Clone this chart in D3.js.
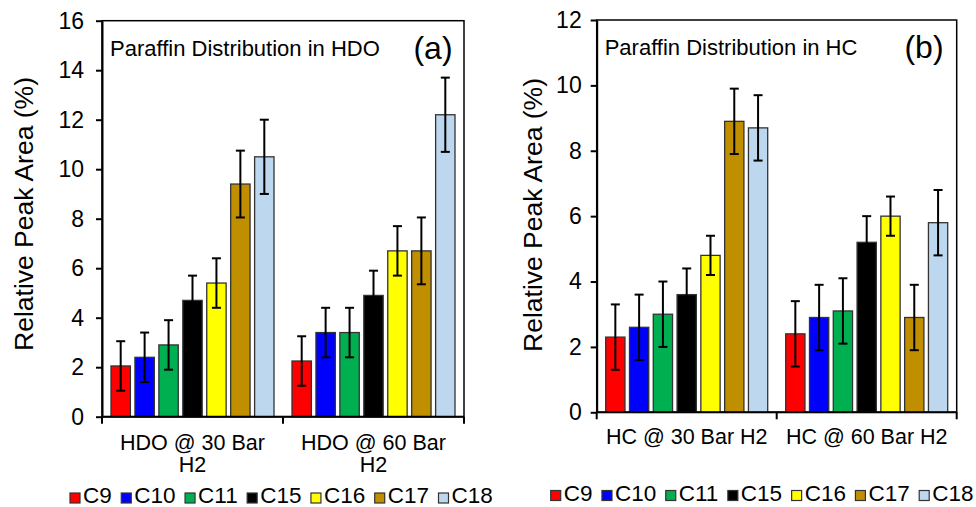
<!DOCTYPE html>
<html>
<head>
<meta charset="utf-8">
<script src="https://cdn.jsdelivr.net/npm/d3@7"></script>
<style>
  html, body { margin: 0; padding: 0; background: #fff; }
  svg { display: block; font-family: "Liberation Sans", Arial, sans-serif; }
</style>
</head>
<body>
<svg id="chart" width="976" height="507"></svg>
<script>
// series (paraffins) and their fill colours
const series = ["C9", "C10", "C11", "C15", "C16", "C17", "C18"];
const colors = ["#ff0000", "#0000ff", "#00b050", "#000000", "#ffff00", "#bf8f00", "#bdd7ee"];

// panel (a): HDO
const hdoCategories = ["HDO @ 30 Bar H2", "HDO @ 60 Bar H2"];
const hdo30 = [2.05, 2.4, 2.9, 4.7, 5.4, 9.4, 10.5];
const hdo30Err = [1.0, 1.0, 1.0, 1.0, 1.0, 1.35, 1.5];
const hdo60 = [2.25, 3.4, 3.4, 4.9, 6.7, 6.7, 12.2];
const hdo60Err = [1.0, 1.0, 1.0, 1.0, 1.0, 1.35, 1.5];
const hdoTicks = [0, 2, 4, 6, 8, 10, 12, 14, 16];

// panel (b): HC
const hcCategories = ["HC @ 30 Bar H2", "HC @ 60 Bar H2"];
const hc30 = [2.3, 2.6, 3.0, 3.6, 4.8, 8.9, 8.7];
const hc30Err = [1.0, 1.0, 1.0, 0.8, 0.6, 1.0, 1.0];
const hc60 = [2.4, 2.9, 3.1, 5.2, 6.0, 2.9, 5.8];
const hc60Err = [1.0, 1.0, 1.0, 0.8, 0.6, 1.0, 1.0];
const hcTicks = [0, 2, 4, 6, 8, 10, 12];

const svg = d3.select("#chart");

function drawPanel(opt) {
  const x = d3.scaleBand().domain(opt.categories).range([opt.left, opt.right]);
  const y = d3.scaleLinear().domain([0, d3.max(opt.ticks)]).range([opt.bottom, opt.top]);
  const inner = d3.scaleBand().domain(series)
      .range([9, x.bandwidth() - 9]).paddingInner(0.19);

  const g = svg.append("g");

  // frame
  g.append("rect")
      .attr("x", opt.left).attr("y", opt.top)
      .attr("width", opt.right - opt.left).attr("height", opt.bottom - opt.top)
      .attr("fill", "none").attr("stroke", "#000").attr("stroke-width", 1.5);

  // bars + error bars
  const rows = [];
  opt.categories.forEach((c, ci) => {
    series.forEach((s, si) => {
      rows.push({ cat: c, s: s, color: colors[si], v: opt.values[ci][si], e: opt.errors[ci][si] });
    });
  });

  g.selectAll("rect.bar").data(rows).join("rect")
      .attr("class", "bar")
      .attr("x", d => x(d.cat) + inner(d.s))
      .attr("y", d => y(d.v))
      .attr("width", inner.bandwidth())
      .attr("height", d => y(0) - y(d.v))
      .attr("fill", d => d.color)
      .attr("stroke", "#333")
      .attr("stroke-width", 1.3);

  const eb = g.selectAll("g.err").data(rows).join("g").attr("class", "err")
      .attr("transform", d => `translate(${x(d.cat) + inner(d.s) + inner.bandwidth() / 2},0)`);
  eb.append("line")
      .attr("y1", d => y(d.v + d.e)).attr("y2", d => y(d.v - d.e))
      .attr("stroke", "#000").attr("stroke-width", 2);
  eb.append("line").attr("x1", -4.5).attr("x2", 4.5)
      .attr("y1", d => y(d.v + d.e)).attr("y2", d => y(d.v + d.e))
      .attr("stroke", "#000").attr("stroke-width", 2);
  eb.append("line").attr("x1", -4.5).attr("x2", 4.5)
      .attr("y1", d => y(d.v - d.e)).attr("y2", d => y(d.v - d.e))
      .attr("stroke", "#000").attr("stroke-width", 2);

  // y axis
  const ya = g.append("g")
      .attr("transform", `translate(${opt.left},0)`)
      .call(d3.axisLeft(y).tickValues(opt.ticks).tickSize(6).tickPadding(opt.tickPad).tickSizeOuter(0));
  ya.select(".domain").attr("stroke-width", 2);
  ya.selectAll(".tick line").attr("stroke-width", 2);
  ya.selectAll(".tick text").attr("font-size", 23).attr("fill", "#000")
      .attr("font-family", null);

  // x axis: baseline and category boundary ticks
  g.append("line")
      .attr("x1", opt.left).attr("x2", opt.right)
      .attr("y1", y(0)).attr("y2", y(0))
      .attr("stroke", "#000").attr("stroke-width", 2);
  const bounds = opt.categories.map(c => x(c)).concat([opt.right]);
  g.selectAll("line.xt").data(bounds).join("line").attr("class", "xt")
      .attr("x1", d => d).attr("x2", d => d)
      .attr("y1", y(0)).attr("y2", y(0) + 7)
      .attr("stroke", "#000").attr("stroke-width", 2);

  // category labels, wrapped when wider than the band
  opt.categories.forEach(c => {
    const t = g.append("text")
        .attr("x", x(c) + x.bandwidth() / 2)
        .attr("y", opt.catY)
        .attr("text-anchor", "middle")
        .attr("font-size", 21.5);
    const words = c.split(" ");
    let line = [];
    let ts = t.append("tspan").attr("x", x(c) + x.bandwidth() / 2);
    words.forEach(w => {
      line.push(w);
      ts.text(line.join(" "));
      if (ts.node().getComputedTextLength() > x.bandwidth() - 12 && line.length > 1) {
        line.pop();
        ts.text(line.join(" "));
        line = [w];
        ts = t.append("tspan").attr("x", x(c) + x.bandwidth() / 2).attr("dy", 22).text(w);
      }
    });
  });

  // y title
  g.append("text")
      .attr("transform", `translate(${opt.titleX},${opt.titleY}) rotate(-90)`)
      .attr("text-anchor", "middle")
      .attr("dy", "0.35em")
      .attr("font-size", 26.5)
      .text("Relative Peak Area (%)");

  // inner labels
  g.append("text")
      .attr("x", opt.left + 8).attr("y", opt.top + 35)
      .attr("font-size", 22)
      .text(opt.label);
  g.append("text")
      .attr("x", opt.tagX).attr("y", opt.top + 38)
      .attr("text-anchor", "middle")
      .attr("font-size", 32)
      .text(opt.tag);

  // legend
  const lg = g.append("g").attr("transform", `translate(${opt.legX},${opt.legY})`);
  let cx = 0;
  series.forEach((s, i) => {
    lg.append("rect")
        .attr("x", cx).attr("y", -10).attr("width", 10).attr("height", 10)
        .attr("fill", colors[i]).attr("stroke", "#333").attr("stroke-width", 1.2);
    const t = lg.append("text").attr("x", cx + 13).attr("y", 0)
        .attr("font-size", 22.5).text(s);
    cx += 13 + t.node().getComputedTextLength() + 9.5;
  });
}

drawPanel({
  categories: hdoCategories,
  values: [hdo30, hdo60],
  errors: [hdo30Err, hdo60Err],
  ticks: hdoTicks,
  left: 102, right: 464, top: 20.7, bottom: 416.7,
  tickPad: 12, catY: 450,
  titleX: 24, titleY: 214,
  label: "Paraffin Distribution in HDO", tag: "(a)", tagX: 433,
  legX: 70, legY: 503
});

drawPanel({
  categories: hcCategories,
  values: [hc30, hc60],
  errors: [hc30Err, hc60Err],
  ticks: hcTicks,
  left: 596.7, right: 956.7, top: 20, bottom: 412.3,
  tickPad: 9, catY: 444,
  titleX: 533, titleY: 215,
  label: "Paraffin Distribution in HC", tag: "(b)", tagX: 924,
  legX: 550.7, legY: 500.5
});
</script>
</body>
</html>
